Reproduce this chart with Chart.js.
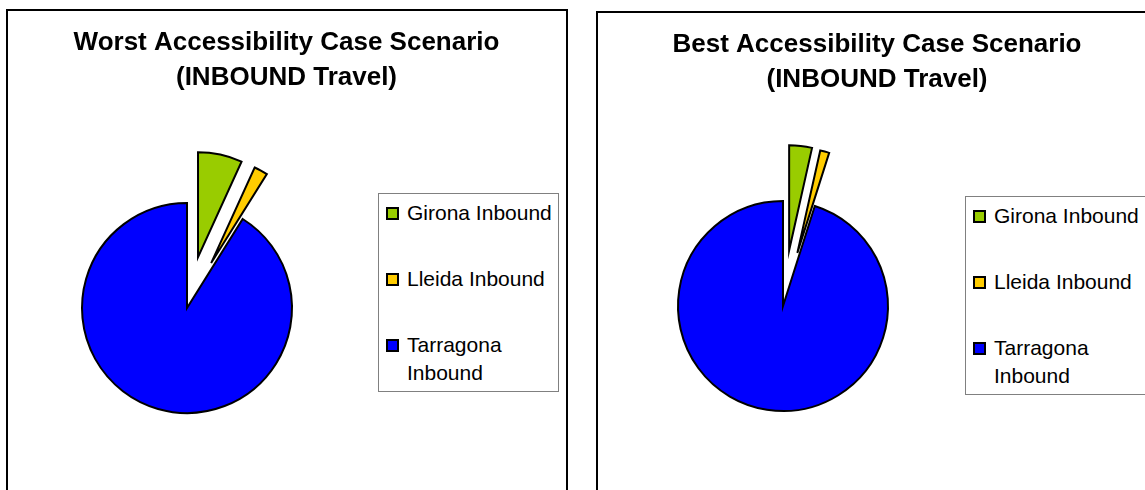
<!DOCTYPE html>
<html>
<head>
<meta charset="utf-8">
<script src="https://cdn.jsdelivr.net/npm/chart.js@4/dist/chart.umd.min.js"></script>
<style>
  html, body { margin: 0; padding: 0; background: #fff; }
  body { width: 1145px; height: 490px; overflow: hidden; position: relative; font-family: 'Liberation Sans', Arial, sans-serif; }
  .panel { position: absolute; border: 2px solid #000; box-sizing: border-box; }
  .wrap { position: absolute; }
  .legend { position: absolute; width: 181px; height: 199px; border: 1px solid #808080; box-sizing: border-box; background: #fff; }
  .item { position: absolute; left: 0; width: 181px; }
  .sw { position: absolute; left: 7px; width: 13px; height: 13px; border: 2px solid #000; box-sizing: border-box; }
  .txt { position: absolute; left: 28px; width: 150px; font-size: 21px; line-height: 28px; color: #000; }
</style>
</head>
<body>
<div class="panel" style="left:6px;top:9px;width:562px;height:540px"></div>
<div class="panel" style="left:596px;top:11px;width:562px;height:540px"></div>

<div class="wrap" style="left:8px;top:11px;width:557px;height:479px"><canvas id="worst"></canvas></div>
<div class="wrap" style="left:598px;top:13px;width:558px;height:477px"><canvas id="best"></canvas></div>

<div class="legend" id="legend-worst" style="left:378px;top:193px"></div>
<div class="legend" id="legend-best" style="left:965px;top:196px"></div>

<script>
// Data (percent of inbound travel)
const categories = ['Girona Inbound', 'Lleida Inbound', 'Tarragona Inbound'];
const worstValues = [6.8, 2.1, 91.1];
const bestValues = [3.5, 1.4, 95.1];
const sliceColors = ['#99CC00', '#FFCC00', '#0000FF'];

const worstTitle = ['Worst Accessibility Case Scenario', '(INBOUND Travel)'];
const bestTitle = ['Best Accessibility Case Scenario', '(INBOUND Travel)'];

// empty box on the right so the pie sits left of the legend, title stays full width
const reserveRight = {
  id: 'reserveRight',
  beforeInit(chart, args, opts) {
    const box = {
      position: 'right',
      fullSize: false,
      weight: 10,
      options: {},
      width: 0, height: 0, left: 0, top: 0, right: 0, bottom: 0,
      update(maxWidth, maxHeight) { this.width = opts.width; this.height = maxHeight; },
      isHorizontal() { return false; },
      draw() {}
    };
    Chart.layouts.addBox(chart, box);
  }
};

// pull slices out along their mid angle, same radius (chart.js offset narrows thin slices)
const explode = {
  id: 'explode',
  afterDatasetsUpdate(chart, args, opts) {
    const meta = chart.getDatasetMeta(0);
    meta.data.forEach((arc, i) => {
      const d = opts.dist[i] || 0;
      const mid = (arc.startAngle + arc.endAngle) / 2;
      arc.x += Math.cos(mid) * d;
      arc.y += Math.sin(mid) * d;
    });
  }
};

function makePie(canvasId, title, values, dist, pad) {
  const canvas = document.getElementById(canvasId);
  return new Chart(canvas, {
    type: 'pie',
    data: {
      labels: categories,
      datasets: [{
        data: values,
        backgroundColor: sliceColors,
        borderColor: '#000',
        borderWidth: 2,
        borderJoinStyle: 'miter'
      }]
    },
    options: {
      responsive: true,
      maintainAspectRatio: false,
      animation: false,
      radius: 105,
      layout: { padding: 0 },
      plugins: {
        legend: { display: false },
        tooltip: { enabled: false },
        reserveRight: { width: pad.right },
        explode: { dist: dist },
        title: {
          display: true,
          text: title,
          color: '#000',
          font: { family: "'Liberation Sans', Arial, sans-serif", size: 26, weight: 'bold', lineHeight: '35px' },
          padding: { top: pad.titleTop, bottom: pad.titleBottom }
        }
      }
    },
    plugins: [reserveRight, explode]
  });
}

// html legend built from the same arrays
function makeLegend(id) {
  const box = document.getElementById(id);
  const tops = [5, 71, 137];
  categories.forEach((name, i) => {
    const item = document.createElement('div');
    item.className = 'item';
    item.style.top = tops[i] + 'px';
    const sw = document.createElement('div');
    sw.className = 'sw';
    sw.style.top = '8px';
    sw.style.background = sliceColors[i];
    const txt = document.createElement('div');
    txt.className = 'txt';
    txt.textContent = name;
    item.appendChild(sw);
    item.appendChild(txt);
    box.appendChild(item);
  });
}

makePie('worst', worstTitle, worstValues, [52, 51, 0], { right: 199, titleTop: 14, titleBottom: 31 });
makePie('best', bestTitle, bestValues, [56, 55, 0], { right: 188, titleTop: 14, titleBottom: 25 });
makeLegend('legend-worst');
makeLegend('legend-best');
</script>
</body>
</html>
